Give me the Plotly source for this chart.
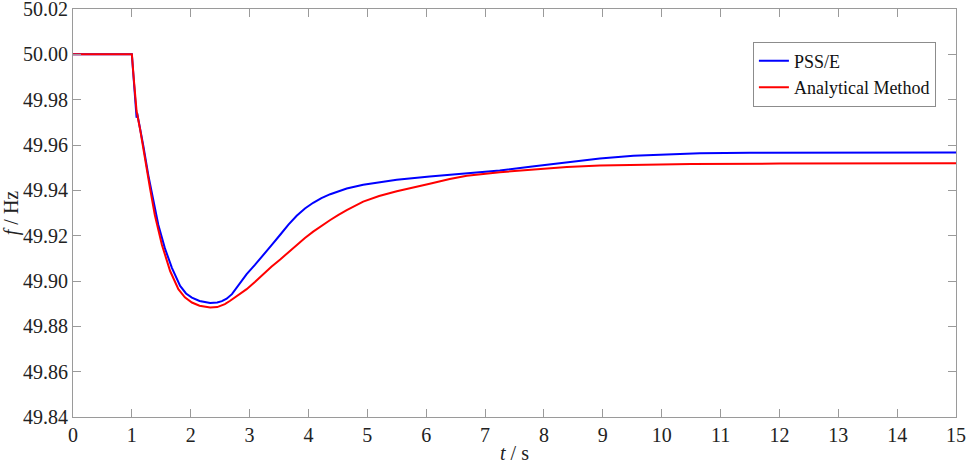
import plotly.graph_objects as go

# PSS/E simulation (blue)
t_psse = [0, 1.0, 1.02, 1.05, 1.08, 1.09, 1.11, 1.195, 1.28, 1.364, 1.45, 1.56,
          1.68, 1.82, 1.92, 2.02, 2.15, 2.33, 2.45, 2.53, 2.61, 2.70, 2.80, 2.95,
          3.09, 3.23, 3.37, 3.52, 3.66, 3.80, 3.94, 4.08, 4.22, 4.37, 4.65, 4.93,
          5.50, 6.06, 6.5, 7.25, 7.8, 8.39, 8.95, 9.52, 10.0, 10.65, 11.5, 13.0, 15.0]
f_psse = [50.000, 50.000, 49.993, 49.983, 49.972, 49.974, 49.9715, 49.9596,
          49.9466, 49.935, 49.9247, 49.9145, 49.9058, 49.8978, 49.8945, 49.8927,
          49.8912, 49.8903, 49.8905, 49.8911, 49.8922, 49.8942, 49.8978, 49.9030,
          49.9071, 49.9112, 49.9157, 49.9204, 49.9249, 49.9288, 49.9320, 49.9345,
          49.9366, 49.9383, 49.9408, 49.9425, 49.9447, 49.9461, 49.9470, 49.9487,
          49.9505, 49.9524, 49.9540, 49.9553, 49.9559, 49.9564, 49.9566, 49.9567,
          49.9567]

# Analytical method (red)
t_anal = [0, 1.0, 1.03, 1.08, 1.14, 1.22, 1.31, 1.39, 1.51, 1.65, 1.79, 1.90, 2.02,
          2.15, 2.33, 2.45, 2.58, 2.67, 2.80, 2.95, 3.09, 3.23, 3.37, 3.52, 3.66,
          3.80, 3.94, 4.08, 4.22, 4.37, 4.51, 4.65, 4.93, 5.20, 5.50, 5.78, 6.06,
          6.40, 6.69, 7.25, 7.81, 8.39, 8.95, 9.52, 10.5, 12.0, 15.0]
f_anal = [50.000, 50.000, 49.990, 49.975, 49.9669, 49.9538, 49.9407, 49.9291,
          49.9160, 49.9044, 49.8964, 49.8928, 49.8905, 49.8891, 49.8883, 49.8885,
          49.8898, 49.8913, 49.8936, 49.8964, 49.8996, 49.9030, 49.9063, 49.9095,
          49.9128, 49.9160, 49.9190, 49.9218, 49.9244, 49.9269, 49.9292, 49.9313,
          49.9350, 49.9375, 49.9396, 49.9414, 49.9429, 49.9450, 49.9464, 49.9480,
          49.9492, 49.9503, 49.9510, 49.9513, 49.9516, 49.9518, 49.9519]

y_ticks = [49.84, 49.86, 49.88, 49.90, 49.92, 49.94, 49.96, 49.98, 50.00, 50.02]
x_ticks = list(range(0, 16))

FONT = "Liberation Serif"
AXIS_GRAY = "#9a9a9a"
TEXT = "#222"

fig = go.Figure()
fig.add_trace(go.Scatter(x=t_psse, y=f_psse, mode="lines", name="PSS/E",
                         line=dict(color="#0000ff", width=2)))
fig.add_trace(go.Scatter(x=t_anal, y=f_anal, mode="lines", name="Analytical Method",
                         line=dict(color="#ff0000", width=2)))

fig.update_layout(
    width=969, height=465,
    plot_bgcolor="white", paper_bgcolor="white",
    font=dict(family=FONT, size=20, color=TEXT),
    margin=dict(l=73, r=13, t=9, b=48),
    showlegend=True,
    legend=dict(
        x=0.77, y=0.92, xanchor="left", yanchor="top",
        bgcolor="white", bordercolor="#8c8c8c", borderwidth=1,
        font=dict(family=FONT, size=18, color="#111"),
        tracegroupgap=0, itemwidth=30,
    ),
    xaxis=dict(
        range=[0, 15], tickvals=x_ticks, ticktext=[str(v) for v in x_ticks],
        tickfont=dict(family=FONT, size=20, color=TEXT),
        showline=True, linecolor=AXIS_GRAY, linewidth=1, mirror="ticks",
        ticks="inside", ticklen=8, tickcolor=AXIS_GRAY,
        ticklabeloverflow="allow",
        showgrid=False, zeroline=False, automargin=False,
        title=dict(text="<i>t</i> / s", standoff=0,
                   font=dict(family=FONT, size=20, color=TEXT)),
    ),
    yaxis=dict(
        range=[49.84, 50.02], tickvals=y_ticks,
        ticktext=[f"{v:.2f}" for v in y_ticks],
        tickfont=dict(family=FONT, size=20, color=TEXT),
        showline=True, linecolor=AXIS_GRAY, linewidth=1, mirror="ticks",
        ticks="inside", ticklen=8, tickcolor=AXIS_GRAY,
        ticklabeloverflow="allow",
        showgrid=False, zeroline=False, automargin=False,
        title=dict(text="<i>f</i> / Hz", standoff=2,
                   font=dict(family=FONT, size=20, color=TEXT)),
    ),
)

# the page body has a default 8px margin; drop it so the figure fills the window
fig.write_html("out.html", config={"displayModeBar": False},
               post_script="document.body.style.margin='0';document.body.style.overflow='hidden';")
